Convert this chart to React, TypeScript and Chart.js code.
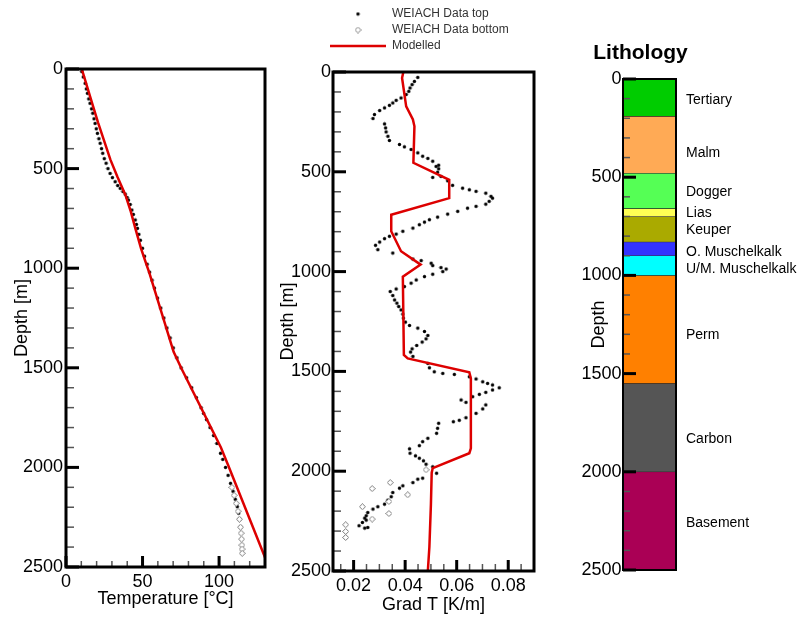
import React, { useEffect, useRef } from 'react';
import { Chart, registerables } from 'chart.js';

Chart.register(...registerables);

const FONT = '"Liberation Sans", Arial, Helvetica, sans-serif';
const RED = '#dd0000';

// ---------- Panel 1: Temperature vs depth ----------
const tempDepthTop = [13, 40, 72, 100, 122, 150, 172, 200, 222, 250, 273, 300, 323, 350, 373, 400, 423, 450, 473, 500, 524, 545, 566, 585, 599, 615, 628, 645, 658, 680, 708, 730, 758, 780, 800, 830, 860, 900, 940, 980, 1020, 1060, 1100, 1150, 1200, 1250, 1300, 1350, 1400, 1450, 1500, 1550, 1600, 1650, 1700, 1729, 1760, 1800, 1840, 1880, 1929, 1960, 2000, 2040, 2080, 2120, 2160, 2197, 2230, 2260, 2298];
const tempTop = [10.3, 11.3, 12.5, 13.3, 14.0, 14.9, 15.7, 16.7, 17.5, 18.3, 19.0, 19.8, 20.5, 21.5, 22.3, 23.2, 24.0, 25.0, 26.2, 27.4, 28.8, 30.3, 32.1, 33.8, 35.4, 37.2, 38.7, 39.9, 40.8, 41.9, 43.0, 44.0, 45.2, 46.0, 46.7, 47.6, 48.6, 50.0, 51.3, 53.0, 54.6, 56.2, 57.8, 59.8, 61.9, 63.9, 65.9, 68.0, 70.1, 72.5, 75.2, 78.8, 82.1, 85.2, 88.2, 89.9, 91.8, 94.1, 96.4, 98.6, 100.9, 102.4, 104.2, 105.9, 107.5, 109.1, 110.6, 111.9, 112.8, 113.4, 114.0];
const tempDepthBottom = [2100, 2140, 2180, 2220, 2260, 2300, 2330, 2360, 2390, 2410, 2431];
const tempBottom = [108.4, 109.8, 111.2, 112.4, 113.3, 114.0, 114.4, 114.7, 114.9, 115.0, 115.1];
const tempDepthModel = [0, 170, 270, 455, 540, 632, 715, 800, 900, 965, 1025, 1420, 1505, 1900, 1990, 2500];
const tempModel = [10.3, 17.0, 21.0, 29.0, 33.5, 38.8, 42.3, 45.3, 49.0, 51.8, 54.5, 70.3, 75.5, 101.2, 106.0, 132.5];

// ---------- Panel 2: Temperature gradient vs depth ----------
const gradDepthTop = [27, 47, 63, 80, 97, 113, 130, 142, 155, 167, 180, 193, 213, 233, 260, 280, 300, 322, 343, 363, 375, 388, 405, 422, 433, 447, 467, 473, 485, 502, 523, 528, 545, 568, 582, 590, 598, 607, 623, 632, 648, 662, 673, 682, 698, 712, 727, 740, 752, 765, 782, 798, 812, 823, 835, 852, 868, 890, 907, 937, 945, 958, 970, 980, 987, 1000, 1013, 1025, 1042, 1058, 1075, 1087, 1100, 1120, 1142, 1158, 1175, 1192, 1213, 1233, 1253, 1270, 1283, 1300, 1320, 1337, 1353, 1370, 1387, 1403, 1425, 1460, 1482, 1502, 1510, 1515, 1527, 1538, 1552, 1560, 1568, 1582, 1593, 1605, 1615, 1627, 1643, 1655, 1668, 1688, 1710, 1732, 1745, 1752, 1760, 1785, 1810, 1835, 1852, 1872, 1888, 1910, 1923, 1935, 1948, 1965, 1978, 2010, 2035, 2040, 2057, 2073, 2085, 2107, 2128, 2145, 2165, 2178, 2190, 2207, 2223, 2235, 2245, 2257, 2273, 2282, 2285];
const gradTop = [0.0449, 0.0436, 0.0427, 0.0419, 0.0414, 0.0404, 0.0384, 0.0365, 0.0352, 0.0339, 0.0320, 0.0301, 0.0281, 0.0275, 0.0320, 0.0324, 0.0326, 0.0333, 0.0339, 0.0378, 0.0397, 0.0423, 0.0449, 0.0468, 0.0488, 0.0507, 0.0530, 0.0520, 0.0530, 0.0526, 0.0539, 0.0507, 0.0565, 0.0584, 0.0623, 0.0649, 0.0675, 0.0713, 0.0733, 0.0739, 0.0726, 0.0713, 0.0675, 0.0642, 0.0604, 0.0565, 0.0526, 0.0494, 0.0475, 0.0455, 0.0430, 0.0391, 0.0365, 0.0339, 0.0320, 0.0301, 0.0285, 0.0294, 0.0352, 0.0430, 0.0462, 0.0501, 0.0507, 0.0539, 0.0559, 0.0546, 0.0507, 0.0475, 0.0443, 0.0423, 0.0397, 0.0365, 0.0342, 0.0352, 0.0359, 0.0368, 0.0375, 0.0384, 0.0391, 0.0393, 0.0401, 0.0417, 0.0449, 0.0475, 0.0488, 0.0481, 0.0466, 0.0445, 0.0427, 0.0421, 0.0430, 0.0488, 0.0494, 0.0513, 0.0546, 0.0591, 0.0649, 0.0675, 0.0701, 0.0720, 0.0739, 0.0765, 0.0739, 0.0713, 0.0688, 0.0662, 0.0617, 0.0636, 0.0713, 0.0701, 0.0675, 0.0636, 0.0610, 0.0587, 0.0530, 0.0526, 0.0522, 0.0488, 0.0468, 0.0455, 0.0417, 0.0419, 0.0440, 0.0455, 0.0471, 0.0481, 0.0507, 0.0522, 0.0468, 0.0449, 0.0430, 0.0391, 0.0378, 0.0352, 0.0346, 0.0333, 0.0320, 0.0294, 0.0275, 0.0255, 0.0249, 0.0243, 0.0249, 0.0234, 0.0221, 0.0255, 0.0243];
const gradDepthBottom = [1993, 2057, 2087, 2118, 2152, 2178, 2212, 2240, 2268, 2302, 2332];
const gradBottom = [0.0481, 0.0342, 0.0272, 0.0410, 0.0337, 0.0234, 0.0337, 0.0272, 0.0169, 0.0169, 0.0169];
const gradDepthModel = [0, 30, 172, 238, 272, 455, 540, 632, 715, 798, 898, 965, 1025, 1417, 1435, 1505, 1535, 1885, 1910, 1985, 2007, 2165, 2380, 2500];
const gradModel = [0.0393, 0.0388, 0.0404, 0.0430, 0.0436, 0.0432, 0.0571, 0.0571, 0.0346, 0.0346, 0.0384, 0.0460, 0.0391, 0.0395, 0.0410, 0.0649, 0.0655, 0.0655, 0.0649, 0.0507, 0.0503, 0.0500, 0.0494, 0.0488];

// ---------- Panel 3: Lithology ----------
const litNames = ['Tertiary', 'Malm', 'Dogger', 'Lias', 'Keuper', 'O. Muschelkalk', 'U/M. Muschelkalk', 'Perm', 'Carbon', 'Basement'];
const litTop = [0, 190, 480, 660, 700, 830, 900, 1000, 1550, 2000];
const litBottom = [190, 480, 660, 700, 830, 900, 1000, 1550, 2000, 2500];
const litColors = ['#00cc00', '#ffaa55', '#55ff55', '#ffff55', '#aaaa00', '#3333ff', '#00ffff', '#ff8000', '#555555', '#aa0055'];
const litLabelDepth = [107, 377, 575, 682, 769, 881, 967, 1303, 1833, 2261];

const depthMin = 0;
const depthMax = 2500;

const toXY = (xs: number[], ys: number[]) => xs.map((x, i) => ({ x, y: ys[i] }));

function makeDot() {
  const c = document.createElement('canvas');
  c.width = 5; c.height = 5;
  const g = c.getContext('2d')!;
  g.fillStyle = '#000';
  g.beginPath(); g.arc(2.5, 2.5, 1.7, 0, Math.PI * 2); g.fill();
  return c;
}
function makeDiamond() {
  const c = document.createElement('canvas');
  c.width = 7; c.height = 7;
  const g = c.getContext('2d')!;
  g.strokeStyle = '#7a7a7a'; g.fillStyle = '#fff'; g.lineWidth = 1;
  g.beginPath(); g.moveTo(3.5, 0.5); g.lineTo(6.5, 3.5); g.lineTo(3.5, 6.5); g.lineTo(0.5, 3.5); g.closePath();
  g.fill(); g.stroke();
  return c;
}

type TickCfg = { step: number; major: number; minLen: number; majLen: number };
function framePlugin(id: string, cfg: { left?: TickCfg; bottom?: TickCfg; frame: number }) {
  return {
    id,
    afterDatasetsDraw(chart: any) {
      const { ctx, chartArea: a, scales } = chart;
      ctx.save();
      const draw = (scale: any, t: TickCfg, side: 'left' | 'bottom') => {
        const start = Math.ceil(scale.min / t.step - 1e-9) * t.step;
        for (let k = 0; ; k++) {
          const v = start + k * t.step;
          if (v > scale.max + 1e-9) break;
          const r = v / t.major;
          const isMajor = Math.abs(r - Math.round(r)) < 1e-6;
          const p = scale.getPixelForValue(v);
          ctx.beginPath();
          ctx.lineWidth = isMajor ? 3 : 1.5;
          ctx.strokeStyle = isMajor ? '#000' : '#555';
          const len = isMajor ? t.majLen : t.minLen;
          if (side === 'left') { ctx.moveTo(a.left, p); ctx.lineTo(a.left + len, p); }
          else { ctx.moveTo(p, a.bottom); ctx.lineTo(p, a.bottom - len); }
          ctx.stroke();
        }
      };
      if (cfg.left) draw(scales.y, cfg.left, 'left');
      if (cfg.bottom) draw(scales.x, cfg.bottom, 'bottom');
      ctx.lineWidth = cfg.frame;
      ctx.strokeStyle = '#000';
      ctx.strokeRect(a.left, a.top, a.right - a.left, a.bottom - a.top);
      ctx.restore();
    },
  };
}

const fixWidth = (w: number) => (s: any) => { s.width = w; s.paddingTop = 0; s.paddingBottom = 0; s.paddingLeft = 0; s.paddingRight = 0; };
const fixHeight = (h: number) => (s: any) => { s.height = h; s.paddingTop = 0; s.paddingBottom = 0; s.paddingLeft = 0; s.paddingRight = 0; };

const tickFont = { family: FONT, size: 18 };
const plainNum = (v: any) => String(Math.round(Number(v) * 1e6) / 1e6);

function depthAxis(width: number, labelPad: number, title: string, titlePad: number) {
  return {
    type: 'linear' as const,
    reverse: true,
    min: depthMin,
    max: depthMax,
    ticks: { stepSize: 500, padding: labelPad, font: tickFont, color: '#000', callback: plainNum },
    grid: { display: false, drawTicks: false },
    border: { display: false },
    title: { display: true, text: title, font: tickFont, color: '#000', padding: { top: titlePad, bottom: 0 } },
    afterFit: fixWidth(width),
  };
}

export default function App() {
  const r1 = useRef<HTMLCanvasElement>(null);
  const r2 = useRef<HTMLCanvasElement>(null);
  const r3 = useRef<HTMLCanvasElement>(null);

  useEffect(() => {
    Chart.defaults.font.family = FONT;
    Chart.defaults.color = '#000';
    const dot = makeDot();
    const diamond = makeDiamond();

    const c1 = new Chart(r1.current!, {
      type: 'scatter',
      data: {
        datasets: [
          { label: 'WEIACH Data top', data: toXY(tempTop, tempDepthTop), pointStyle: dot as any, pointRadius: 2, order: 2 },
          { label: 'WEIACH Data bottom', data: toXY(tempBottom, tempDepthBottom), pointStyle: diamond as any, pointRadius: 3, order: 1 },
          { label: 'Modelled', data: toXY(tempModel, tempDepthModel), showLine: true, borderColor: RED, borderWidth: 2.5, pointRadius: 0, order: 0 } as any,
        ],
      },
      options: {
        responsive: false,
        animation: false,
        layout: { padding: { left: 0, right: 15, top: 69, bottom: 0 } },
        plugins: { legend: { display: false }, tooltip: { enabled: false } },
        scales: {
          x: {
            type: 'linear', min: 0, max: 130,
            ticks: { stepSize: 50, includeBounds: false, padding: 4, font: tickFont, color: '#000', callback: plainNum },
            grid: { display: false, drawTicks: false },
            border: { display: false },
            title: { display: true, text: 'Temperature [°C]', font: tickFont, color: '#000', padding: { top: 0, bottom: 8 } },
            afterFit: fixHeight(51),
          },
          y: depthAxis(66, 3, 'Depth [m]', 11),
        } as any,
      },
      plugins: [framePlugin('frame1', {
        left: { step: 100, major: 500, minLen: 8, majLen: 13 },
        bottom: { step: 10, major: 50, minLen: 6, majLen: 11 },
        frame: 3,
      })],
    });

    const legendShift = {
      id: 'legendShift',
      afterLayout(chart: any) {
        if (chart.legend) { chart.legend.left = 50; chart.legend.top = 4; }
      },
    };

    const c2 = new Chart(r2.current!, {
      type: 'scatter',
      data: {
        datasets: [
          { label: 'WEIACH Data top', data: toXY(gradTop, gradDepthTop), pointStyle: dot as any, pointRadius: 2, order: 2 },
          { label: 'WEIACH Data bottom', data: toXY(gradBottom, gradDepthBottom), pointStyle: diamond as any, pointRadius: 3, order: 1 },
          { label: 'Modelled', data: toXY(gradModel, gradDepthModel), showLine: true, borderColor: RED, borderWidth: 2.5, pointRadius: 0, pointStyle: 'line', pointBorderColor: RED, pointBorderWidth: 2.5, order: 0 } as any,
        ],
      },
      options: {
        responsive: false,
        animation: false,
        layout: { padding: { left: 0, right: 6, top: 14, bottom: 0 } },
        plugins: {
          tooltip: { enabled: false },
          legend: {
            display: true,
            position: 'top',
            align: 'start',
            labels: {
              usePointStyle: true,
              pointStyleWidth: 56,
              padding: 4,
              font: { family: FONT, size: 12 },
              color: '#333',
              sort: (a: any, b: any) => a.datasetIndex - b.datasetIndex,
            },
          },
        },
        scales: {
          x: {
            type: 'linear', min: 0.012, max: 0.09,
            ticks: { stepSize: 0.02, includeBounds: false, padding: 4, font: tickFont, color: '#000', callback: plainNum },
            grid: { display: false, drawTicks: false },
            border: { display: false },
            title: { display: true, text: 'Grad T [K/m]', font: tickFont, color: '#000', padding: { top: 0, bottom: 2.5 } },
            afterFit: fixHeight(47),
          },
          y: depthAxis(57, 2, 'Depth [m]', 1.2),
        } as any,
      },
      plugins: [legendShift, framePlugin('frame2', {
        left: { step: 100, major: 500, minLen: 8, majLen: 13 },
        bottom: { step: 0.005, major: 0.02, minLen: 7, majLen: 11 },
        frame: 3,
      })],
    });

    const litPlugin = {
      id: 'litText',
      afterDraw(chart: any) {
        const { ctx, chartArea: a, scales } = chart;
        ctx.save();
        ctx.fillStyle = '#000';
        ctx.font = `bold 21px ${FONT}`;
        ctx.textAlign = 'center';
        ctx.textBaseline = 'alphabetic';
        ctx.fillText('Lithology', (a.left + a.right) / 2 - 9, a.top - 20);
        ctx.font = `14px ${FONT}`;
        ctx.textAlign = 'left';
        ctx.textBaseline = 'middle';
        litNames.forEach((n, i) => {
          ctx.fillText(n, a.right + 10, scales.y.getPixelForValue(litLabelDepth[i]));
        });
        ctx.restore();
      },
    };

    const c3 = new Chart(r3.current!, {
      type: 'bar',
      data: {
        labels: [''],
        datasets: litNames.map((n, i) => ({
          label: n,
          data: [[litTop[i], litBottom[i]]] as any,
          backgroundColor: litColors[i],
          borderColor: 'rgba(0,0,0,0.75)',
          borderWidth: 0.6,
          borderSkipped: false,
          grouped: false,
          barPercentage: 1,
          categoryPercentage: 1,
        })),
      },
      options: {
        responsive: false,
        animation: false,
        layout: { padding: { left: 0, right: 133, top: 79, bottom: 48 } },
        plugins: { legend: { display: false }, tooltip: { enabled: false } },
        scales: {
          x: { display: false },
          y: depthAxis(53, 1.5, 'Depth', 18.2),
        } as any,
      },
      plugins: [framePlugin('frame3', {
        left: { step: 100, major: 500, minLen: 7, majLen: 13 },
        frame: 2,
      }), litPlugin],
    });

    return () => { c1.destroy(); c2.destroy(); c3.destroy(); };
  }, []);

  return (
    <div style={{ position: 'absolute', left: 0, top: 0, width: 809, height: 618, background: '#fff', overflow: 'hidden' }}>
      <canvas ref={r1} width={280} height={618} style={{ position: 'absolute', left: 0, top: 0, width: 280, height: 618 }} />
      <canvas ref={r2} width={264} height={618} style={{ position: 'absolute', left: 276, top: 0, width: 264, height: 618 }} />
      <canvas ref={r3} width={239} height={618} style={{ position: 'absolute', left: 570, top: 0, width: 239, height: 618 }} />
    </div>
  );
}
